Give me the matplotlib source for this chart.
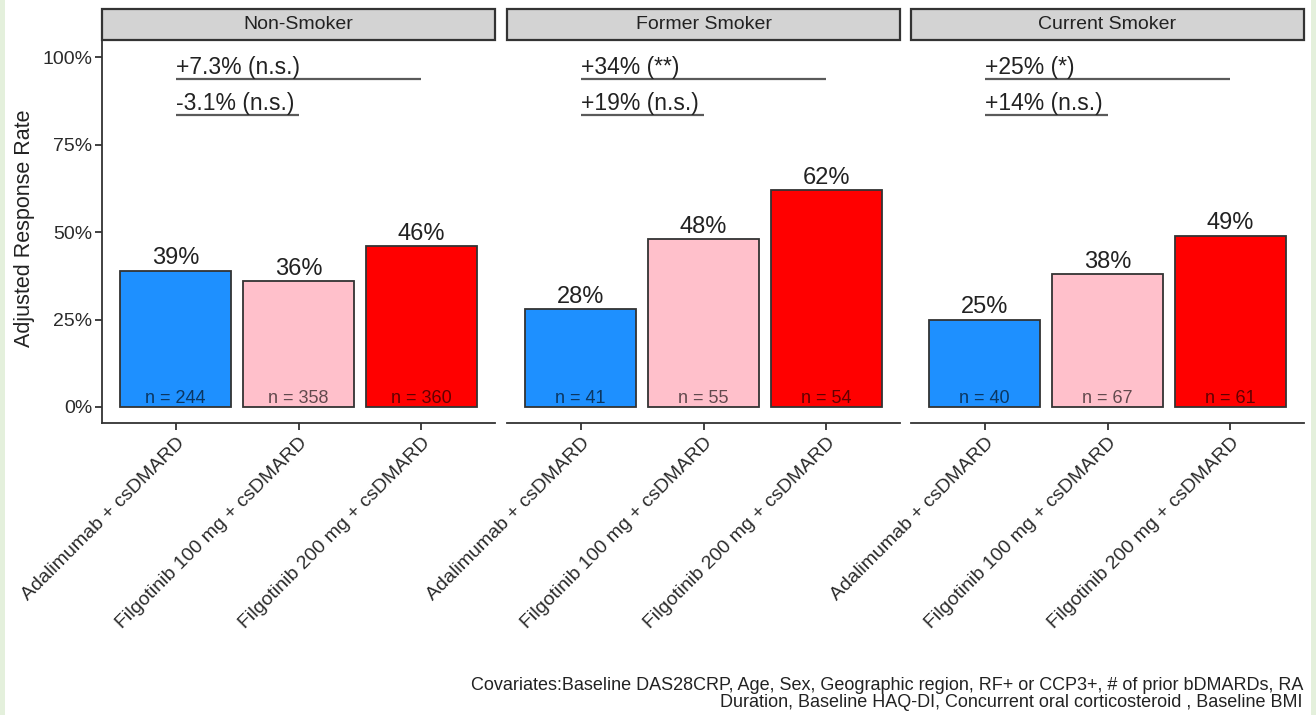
import matplotlib
matplotlib.use("Agg")
import matplotlib.pyplot as plt
from matplotlib.patches import Rectangle

plt.rcParams["font.family"] = ["Liberation Sans", "DejaVu Sans"]

# ---- data -------------------------------------------------------------
groups = ["Non-Smoker", "Former Smoker", "Current Smoker"]
treatments = ["Adalimumab + csDMARD",
              "Filgotinib 100 mg + csDMARD",
              "Filgotinib 200 mg + csDMARD"]
bar_colors = ["#1e90ff", "#ffc0cb", "#ff0000"]

rate_non_smoker = [39, 36, 46]
rate_former_smoker = [28, 48, 62]
rate_current_smoker = [25, 38, 49]

n_non_smoker = [244, 358, 360]
n_former_smoker = [41, 55, 54]
n_current_smoker = [40, 67, 61]

# difference vs. adalimumab: Filgotinib 200 mg (upper) and 100 mg (lower)
diff_200 = ["+7.3% (n.s.)", "+34% (**)", "+25% (*)"]
diff_100 = ["-3.1% (n.s.)", "+19% (n.s.)", "+14% (n.s.)"]

rates = [rate_non_smoker, rate_former_smoker, rate_current_smoker]
counts = [n_non_smoker, n_former_smoker, n_current_smoker]

footnote = ("Covariates:Baseline DAS28CRP, Age, Sex, Geographic region, RF+ or CCP3+, "
            "# of prior bDMARDs, RA\nDuration, Baseline HAQ-DI, Concurrent oral "
            "corticosteroid , Baseline BMI")

# ---- figure -------------------------------------------------------------
W, H = 1316, 715
fig = plt.figure(figsize=(W / 100, H / 100), dpi=100)
fig.patch.set_facecolor("white")

# thin tinted frame at left and right edges
for x0 in (0, W - 5):
    fig.patches.append(Rectangle((x0 / W, 0), 5 / W, 1, transform=fig.transFigure,
                                 facecolor="#e4f0dc", edgecolor="none", zorder=-10))

panel_left = [102, 507, 911]
panel_width = 393
panel_top, panel_bottom = 40, 423
strip_h = 31
line_col = "#333333"
x = [1, 2, 3]

for i, grp in enumerate(groups):
    ax = fig.add_axes([panel_left[i] / W, 1 - panel_bottom / H,
                       panel_width / W, (panel_bottom - panel_top) / H])
    vals = rates[i]
    ax.bar(x, vals, width=0.9, color=bar_colors, edgecolor=line_col,
           linewidth=1.3, zorder=2)
    ax.set_xlim(0.4, 3.6)
    ax.set_ylim(-4.6, 105)

    for xi, v, n in zip(x, vals, counts[i]):
        ax.annotate(f"{v}%", (xi, v), xytext=(0, 1), textcoords="offset points",
                    ha="center", va="bottom", fontsize=17, color="#222222")
        ax.annotate(f"n = {n}", (xi, 0), xytext=(0, 3), textcoords="offset points",
                    ha="center", va="baseline", fontsize=13, color="black",
                    alpha=0.62, zorder=3)

    # comparison brackets
    y_hi, y_lo = 93.7, 83.4
    ax.plot([1, 3], [y_hi, y_hi], color="#5a5a5a", lw=1.6, solid_capstyle="butt")
    ax.plot([1, 2], [y_lo, y_lo], color="#5a5a5a", lw=1.6, solid_capstyle="butt")
    ax.annotate(diff_200[i], (1, y_hi), xytext=(0, 0.5), textcoords="offset points",
                ha="left", va="bottom", fontsize=16.5, color="#222222")
    ax.annotate(diff_100[i], (1, y_lo), xytext=(0, 0.5), textcoords="offset points",
                ha="left", va="bottom", fontsize=16.5, color="#222222")

    # axes styling
    for s in ("top", "right"):
        ax.spines[s].set_visible(False)
    ax.spines["bottom"].set_color(line_col)
    ax.spines["bottom"].set_linewidth(1.3)
    ax.set_xticks(x)
    ax.set_xticklabels(treatments, rotation=45, ha="right", va="top",
                       rotation_mode="anchor", fontsize=14, color="#2a2a2a")
    ax.tick_params(axis="x", length=5, width=1.3, color=line_col, pad=3)
    if i == 0:
        ax.spines["left"].set_color(line_col)
        ax.spines["left"].set_linewidth(1.3)
        ax.set_yticks([0, 25, 50, 75, 100])
        ax.set_yticklabels(["0%", "25%", "50%", "75%", "100%"], fontsize=14,
                           color="#2a2a2a")
        ax.tick_params(axis="y", length=5, width=1.3, color=line_col, pad=2)
    else:
        ax.spines["left"].set_visible(False)
        ax.set_yticks([])

    # facet strip
    ax.add_patch(Rectangle((0, 1), 1, strip_h / (panel_bottom - panel_top),
                           transform=ax.transAxes, facecolor="#d3d3d3",
                           edgecolor=line_col, linewidth=1.6, clip_on=False))
    ax.text(0.5, 1 + strip_h / 2 / (panel_bottom - panel_top), grp,
            transform=ax.transAxes, ha="center", va="center", fontsize=14,
            color="#222222")

fig.text(25 / W, 1 - 228 / H, "Adjusted Response Rate", rotation=90,
         ha="center", va="center", fontsize=15.5, color="#222222")
fig.text(1303 / W, 1 - 694 / H, footnote, ha="right", va="center",
         fontsize=13, color="#222222", linespacing=1.0)

fig.savefig("out.png", dpi=100)
